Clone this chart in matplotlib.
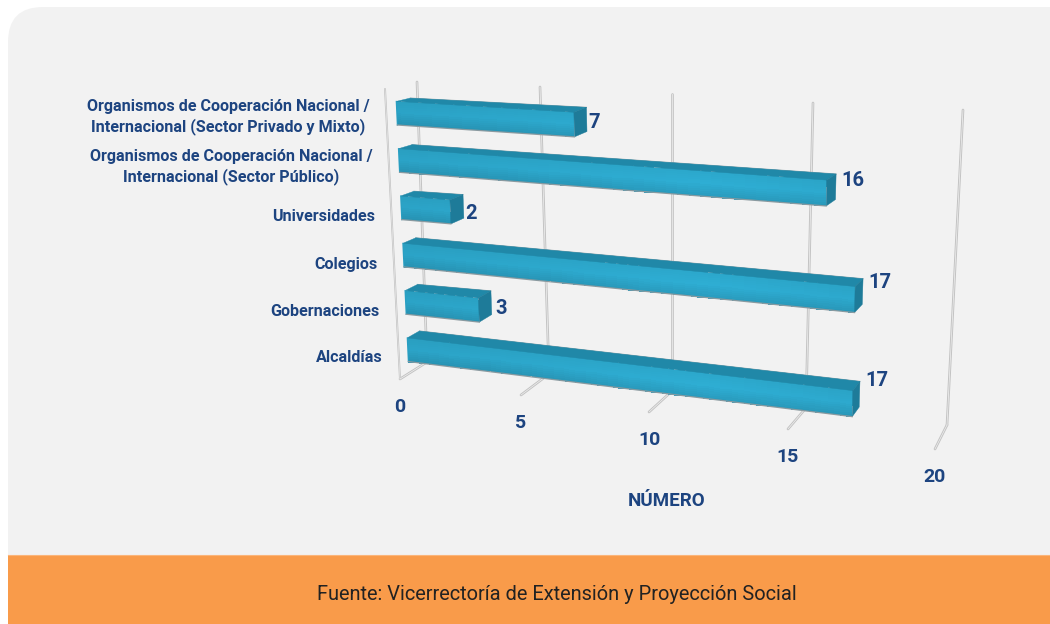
import numpy as np
import matplotlib
matplotlib.use("Agg")
import matplotlib.pyplot as plt
from matplotlib.patches import Polygon, FancyBboxPatch, Rectangle

# ---- data (bottom to top) ----
categories = ["Alcaldías", "Gobernaciones", "Colegios", "Universidades",
              "Organismos de Cooperación Nacional /\nInternacional (Sector Público)",
              "Organismos de Cooperación Nacional /\nInternacional (Sector Privado y Mixto)"]
values = [17, 3, 17, 2, 16, 7]
ticks = [0, 5, 10, 15, 20]
axis_title = "NÚMERO"
source = "Fuente: Vicerrectoría de Extensión y Proyección Social"

# ---- 3D view: screen position of the box corners at each tick ----
front_floor = np.array([[400, 379], [521, 395], [649, 412], [788, 429], [935, 449]], float)
back_floor = np.array([[427, 362], [549, 374], [672, 391], [806, 408], [947, 425]], float)
back_top = np.array([[417, 82], [540, 87], [672, 94], [813, 103], [963, 110]], float)
front_top = np.array([[385, 89], [510, 97], [645, 106], [788, 114], [948, 125]], float)


def edge(tab, v):
    return np.stack([np.interp(v, ticks, tab[:, 0]), np.interp(v, ticks, tab[:, 1])], axis=-1)


def P(v, d, h):
    """value v, depth d (0 front .. 1 back), height h (0 floor .. 1 top) -> pixels."""
    v = np.asarray(v, float)
    lo = edge(front_floor, v) * (1 - d) + edge(back_floor, v) * d
    hi = edge(front_top, v) * (1 - d) + edge(back_top, v) * d
    h = np.asarray(h, float)[..., None] if np.ndim(h) else h
    return lo * (1 - h) + hi * h


BG = "#F2F2F2"
ORANGE = "#F99B4A"
NAVY = "#1D4480"
GRID = "#C2C2C2"
TOP = "#2088A8"
SIDE = "#1E7B99"
D0, D1 = 0.33, 0.77
H_SCALE = 0.99
BOLD = dict(family=["Roboto", "Liberation Sans"], fontweight="bold", color=NAVY)

fig = plt.figure(figsize=(10.5, 6.24), dpi=100, facecolor="white")
ax = fig.add_axes([0, 0, 1, 1])
ax.axis("off")

# panel
ax.add_patch(FancyBboxPatch((8 + 35, 7 + 35), 1100, 600, boxstyle="round,pad=35,rounding_size=35",
                            fc=BG, ec="none", zorder=0))
ax.add_patch(Rectangle((8, 555), 1100, 80, fc=ORANGE, ec="none", zorder=1))
ax.plot([8, 1050], [555, 555], color="#FBB57A", lw=0.8, zorder=1.1)


def wall_line(a, b, lw=2.0):
    xs, ys = [a[0], b[0]], [a[1], b[1]]
    ax.plot(xs, ys, color=GRID, lw=lw, solid_capstyle="round", zorder=2)
    ax.plot(xs, ys, color="#EDEDED", lw=lw * 0.3, zorder=2.1)


for t in ticks:
    wall_line(P(t, 1, 1), P(t, 1, 0), lw=1.9)
    wall_line(P(t, 1, 0), P(t, 0, 0), lw=1.9)
wall_line(P(0, 0, 1), P(0, 0, 0), lw=1.4)

# bars
n = len(values)
stops_h = [0.0, 0.55, 1.0]
stops_col = np.array([[0x29, 0x9A, 0xBC], [0x2E, 0xAE, 0xD4], [0x2C, 0xA8, 0xCC]], float) / 255
for i, (val, cat) in enumerate(zip(values, categories)):
    h0, h1 = (i + 0.25) / n * H_SCALE, (i + 0.75) / n * H_SCALE
    vg = np.linspace(0, val, 41)
    hg = np.linspace(h0, h1, 13)
    V, H = np.meshgrid(vg, hg)
    XY = P(V, D0, H)
    hc = (0.5 * (hg[:-1] + hg[1:]) - h0) / (h1 - h0)
    vc = 0.5 * (vg[:-1] + vg[1:]) / 17
    base = np.stack([np.interp(hc, stops_h, stops_col[:, k]) for k in range(3)], axis=-1)
    fade = np.interp(vc, [0, 0.25, 0.7, 1], [0.94, 0.96, 1.0, 0.97])
    C = np.clip(base[:, None, :] * fade[None, :, None], 0, 1)
    ax.pcolormesh(XY[..., 0], XY[..., 1], C, shading="flat", zorder=3, antialiased=False,
                  linewidth=0, edgecolor="none")
    top = [P(0, D0, h1), P(0, D1, h1), P(val, D1, h1), P(val, D0, h1)]
    side = [P(val, D0, h1), P(val, D1, h1), P(val, D1, h0), P(val, D0, h0)]
    ax.add_patch(Polygon(top, fc=TOP, ec=TOP, lw=0.3, zorder=3.1))
    ax.add_patch(Polygon(side, fc=SIDE, ec=SIDE, lw=0.3, zorder=3.1))
    a, b = P(0, D0, h0), P(0, D0, h1)
    ax.plot([a[0], b[0]], [a[1], b[1]], color="#2A9FC2", lw=0.8, zorder=3.2)
    a, b = P(0, D0, h0), P(val, D0, h0)
    ax.plot([a[0], b[0]], [a[1], b[1]], color="#8A9AA0", lw=0.9, zorder=3.2)
    a, b = P(0, D1, h1), P(val, D1, h1)
    ax.plot([a[0], b[0]], [a[1], b[1]], color="#9AA6AA", lw=0.7, zorder=3.05)

# value labels
label_dx = [5, 4, 5, 2, 5, 2]
label_dy = [-1, 18, 4, 19, 7, 15]
for i, val in enumerate(values):
    p = P(val, D1, (i + 0.75) / n * H_SCALE)
    ax.text(p[0] + label_dx[i], p[1] + label_dy[i], str(val), ha="left", va="center",
            fontsize=14.5, zorder=5, **BOLD)

# category labels
label_y_shift = [2.5, 5.5, 6.5, 6.5, 5.5, 3.5]
for i, cat in enumerate(categories):
    p = P(0, 0, (i + 0.5) / n)
    ax.text(p[0] - 16.5, p[1] + label_y_shift[i], cat, ha="right", va="center", multialignment="center",
            fontsize=11.6, linespacing=1.3, zorder=5, **BOLD)

# tick labels
for t in ticks:
    p = P(t, 0, 0)
    ax.text(p[0], p[1] + 28, str(t), ha="center", va="center", fontsize=14, zorder=5, **BOLD)

ax.text(667, 501, axis_title, ha="center", va="center", fontsize=13.5, zorder=5, **BOLD)
ax.text(557, 594, source, ha="center", va="center", fontsize=14.4, color="#222222",
        family=["Roboto", "Liberation Sans"], zorder=5)

ax.set_xlim(0, 1050)
ax.set_ylim(624, 0)
fig.savefig("out.png", dpi=100, facecolor="white")
